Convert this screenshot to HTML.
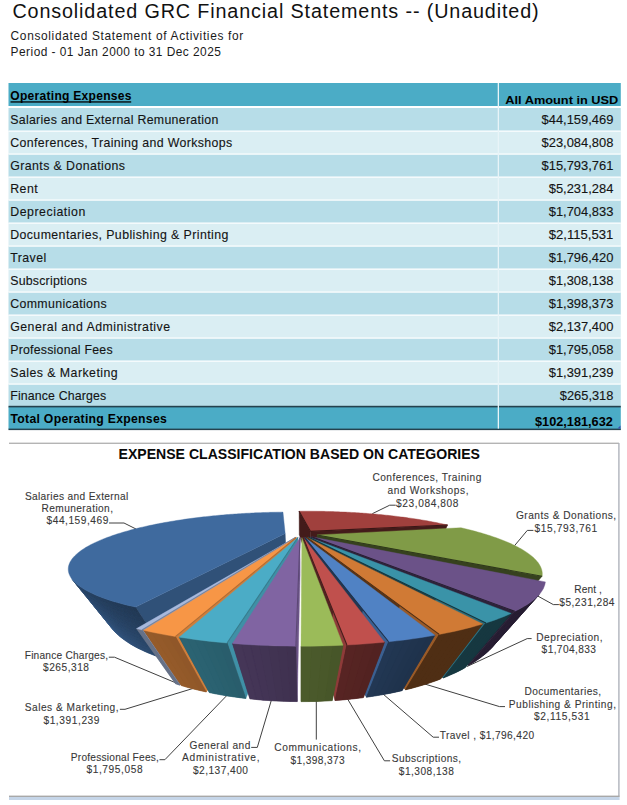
<!DOCTYPE html>
<html><head><meta charset="utf-8"><title>Consolidated GRC Financial Statements</title>
<style>
html,body{margin:0;padding:0;background:#fff;width:627px;height:805px;overflow:hidden}
svg{display:block;font-family:"Liberation Sans",sans-serif}
</style></head><body>
<svg width="627" height="805" viewBox="0 0 627 805">
<rect x="8.5" y="83" width="612.3" height="23" fill="#4bacc6"/>
<rect x="8.5" y="108" width="612.3" height="23" fill="#b7dde8"/>
<rect x="8.5" y="131" width="612.3" height="23" fill="#daeef3"/>
<rect x="8.5" y="154" width="612.3" height="23" fill="#b7dde8"/>
<rect x="8.5" y="177" width="612.3" height="23" fill="#daeef3"/>
<rect x="8.5" y="200" width="612.3" height="23" fill="#b7dde8"/>
<rect x="8.5" y="223" width="612.3" height="23" fill="#daeef3"/>
<rect x="8.5" y="246" width="612.3" height="23" fill="#b7dde8"/>
<rect x="8.5" y="269" width="612.3" height="23" fill="#daeef3"/>
<rect x="8.5" y="292" width="612.3" height="23" fill="#b7dde8"/>
<rect x="8.5" y="315" width="612.3" height="23" fill="#daeef3"/>
<rect x="8.5" y="338" width="612.3" height="23" fill="#b7dde8"/>
<rect x="8.5" y="361" width="612.3" height="23" fill="#daeef3"/>
<rect x="8.5" y="384" width="612.3" height="23" fill="#b7dde8"/>
<rect x="8.5" y="130.5" width="612.3" height="1.2" fill="#ffffff"/>
<rect x="8.5" y="153.5" width="612.3" height="1.2" fill="#ffffff"/>
<rect x="8.5" y="176.5" width="612.3" height="1.2" fill="#ffffff"/>
<rect x="8.5" y="199.5" width="612.3" height="1.2" fill="#ffffff"/>
<rect x="8.5" y="222.5" width="612.3" height="1.2" fill="#ffffff"/>
<rect x="8.5" y="245.5" width="612.3" height="1.2" fill="#ffffff"/>
<rect x="8.5" y="268.5" width="612.3" height="1.2" fill="#ffffff"/>
<rect x="8.5" y="291.5" width="612.3" height="1.2" fill="#ffffff"/>
<rect x="8.5" y="314.5" width="612.3" height="1.2" fill="#ffffff"/>
<rect x="8.5" y="337.5" width="612.3" height="1.2" fill="#ffffff"/>
<rect x="8.5" y="360.5" width="612.3" height="1.2" fill="#ffffff"/>
<rect x="8.5" y="383.5" width="612.3" height="1.2" fill="#ffffff"/>
<rect x="8.5" y="407" width="612.3" height="22.5" fill="#4bacc6"/>
<rect x="8.5" y="405.8" width="612.3" height="1.6" fill="#24424e"/>
<rect x="8.5" y="428.6" width="612.3" height="1.5" fill="#24424e"/>
<rect x="497.7" y="83" width="1.3" height="345.6" fill="#e8f4f8"/>
<path d="M617.5 428.5 L620.5 425.5 L620.5 428.5 Z" fill="#3a4fb0"/>
<text x="12.4" y="18.3" font-size="19.77" textLength="526.2" lengthAdjust="spacing" fill="#111111">Consolidated GRC Financial Statements -- (Unaudited)</text>
<text x="10.6" y="40.0" font-size="11.92" textLength="232.6" lengthAdjust="spacing" fill="#1a1a1a">Consolidated Statement of Activities for</text>
<text x="10.6" y="56.0" font-size="11.92" textLength="210.3" lengthAdjust="spacing" fill="#1a1a1a">Period - 01 Jan 2000 to 31 Dec 2025</text>
<text x="10.3" y="99.7" font-size="12.06" textLength="121.1" lengthAdjust="spacing" font-weight="bold" fill="#000">Operating Expenses</text>
<rect x="10.5" y="101.3" width="120.7" height="1.3" fill="#000"/>
<text x="505.3" y="103.9" font-size="11.63" textLength="113.0" lengthAdjust="spacingAndGlyphs" font-weight="bold" fill="#000">All Amount in USD</text>
<text x="10.2" y="123.8" font-size="12.35" textLength="208.1" lengthAdjust="spacing" fill="#141414" stroke="#141414" stroke-width="0.12">Salaries and External Remuneration</text>
<text x="541.5" y="123.9" font-size="12.21" textLength="71.9" lengthAdjust="spacingAndGlyphs" fill="#141414" stroke="#141414" stroke-width="0.12">$44,159,469</text>
<text x="10.2" y="146.8" font-size="12.35" textLength="222.0" lengthAdjust="spacing" fill="#141414" stroke="#141414" stroke-width="0.12">Conferences, Training and Workshops</text>
<text x="541.5" y="146.9" font-size="12.21" textLength="71.9" lengthAdjust="spacingAndGlyphs" fill="#141414" stroke="#141414" stroke-width="0.12">$23,084,808</text>
<text x="10.2" y="169.8" font-size="12.35" textLength="114.8" lengthAdjust="spacing" fill="#141414" stroke="#141414" stroke-width="0.12">Grants &amp; Donations</text>
<text x="541.5" y="169.9" font-size="12.21" textLength="71.9" lengthAdjust="spacingAndGlyphs" fill="#141414" stroke="#141414" stroke-width="0.12">$15,793,761</text>
<text x="10.2" y="192.8" font-size="12.35" textLength="27.6" lengthAdjust="spacing" fill="#141414" stroke="#141414" stroke-width="0.12">Rent</text>
<text x="548.7" y="192.9" font-size="12.21" textLength="64.7" lengthAdjust="spacingAndGlyphs" fill="#141414" stroke="#141414" stroke-width="0.12">$5,231,284</text>
<text x="10.2" y="215.8" font-size="12.35" textLength="75.1" lengthAdjust="spacing" fill="#141414" stroke="#141414" stroke-width="0.12">Depreciation</text>
<text x="548.7" y="215.9" font-size="12.21" textLength="64.7" lengthAdjust="spacingAndGlyphs" fill="#141414" stroke="#141414" stroke-width="0.12">$1,704,833</text>
<text x="10.2" y="238.8" font-size="12.35" textLength="218.1" lengthAdjust="spacing" fill="#141414" stroke="#141414" stroke-width="0.12">Documentaries, Publishing &amp; Printing</text>
<text x="548.7" y="238.9" font-size="12.21" textLength="64.7" lengthAdjust="spacingAndGlyphs" fill="#141414" stroke="#141414" stroke-width="0.12">$2,115,531</text>
<text x="10.2" y="261.8" font-size="12.35" textLength="36.1" lengthAdjust="spacing" fill="#141414" stroke="#141414" stroke-width="0.12">Travel</text>
<text x="548.7" y="261.9" font-size="12.21" textLength="64.7" lengthAdjust="spacingAndGlyphs" fill="#141414" stroke="#141414" stroke-width="0.12">$1,796,420</text>
<text x="10.2" y="284.8" font-size="12.35" textLength="76.8" lengthAdjust="spacing" fill="#141414" stroke="#141414" stroke-width="0.12">Subscriptions</text>
<text x="548.7" y="284.9" font-size="12.21" textLength="64.7" lengthAdjust="spacingAndGlyphs" fill="#141414" stroke="#141414" stroke-width="0.12">$1,308,138</text>
<text x="10.2" y="307.8" font-size="12.35" textLength="96.5" lengthAdjust="spacing" fill="#141414" stroke="#141414" stroke-width="0.12">Communications</text>
<text x="548.7" y="307.9" font-size="12.21" textLength="64.7" lengthAdjust="spacingAndGlyphs" fill="#141414" stroke="#141414" stroke-width="0.12">$1,398,373</text>
<text x="10.2" y="330.8" font-size="12.35" textLength="159.8" lengthAdjust="spacing" fill="#141414" stroke="#141414" stroke-width="0.12">General and Administrative</text>
<text x="548.7" y="330.9" font-size="12.21" textLength="64.7" lengthAdjust="spacingAndGlyphs" fill="#141414" stroke="#141414" stroke-width="0.12">$2,137,400</text>
<text x="10.2" y="353.8" font-size="12.35" textLength="102.4" lengthAdjust="spacing" fill="#141414" stroke="#141414" stroke-width="0.12">Professional Fees</text>
<text x="548.7" y="353.9" font-size="12.21" textLength="64.7" lengthAdjust="spacingAndGlyphs" fill="#141414" stroke="#141414" stroke-width="0.12">$1,795,058</text>
<text x="10.2" y="376.8" font-size="12.35" textLength="107.5" lengthAdjust="spacing" fill="#141414" stroke="#141414" stroke-width="0.12">Sales &amp; Marketing</text>
<text x="548.7" y="376.9" font-size="12.21" textLength="64.7" lengthAdjust="spacingAndGlyphs" fill="#141414" stroke="#141414" stroke-width="0.12">$1,391,239</text>
<text x="10.2" y="399.8" font-size="12.35" textLength="96.0" lengthAdjust="spacing" fill="#141414" stroke="#141414" stroke-width="0.12">Finance Charges</text>
<text x="559.8" y="399.9" font-size="12.21" textLength="53.6" lengthAdjust="spacingAndGlyphs" fill="#141414" stroke="#141414" stroke-width="0.12">$265,318</text>
<text x="10.5" y="423.2" font-size="12.21" textLength="156.3" lengthAdjust="spacing" font-weight="bold" fill="#000">Total Operating Expenses</text>
<text x="535.0" y="426.0" font-size="11.92" textLength="77.8" lengthAdjust="spacingAndGlyphs" font-weight="bold" fill="#000">$102,181,632</text>
<rect x="9" y="442.6" width="610" height="1.4" fill="#b4b4b4"/>
<rect x="618.2" y="443" width="1.4" height="353.5" fill="#b0b3bc"/>
<rect x="9" y="795.6" width="610.6" height="1.4" fill="#a8a8a8"/>
<rect x="9" y="797" width="610.6" height="3" fill="#c5d5e8"/>
<text x="118.5" y="459.1" font-size="14.83" textLength="361.5" lengthAdjust="spacingAndGlyphs" font-weight="bold" fill="#0a0a0a">EXPENSE CLASSIFICATION BASED ON CATEGORIES</text>
<text x="24.9" y="500.2" font-size="10.17" textLength="103.4" lengthAdjust="spacing" fill="#383838" stroke="#383838" stroke-width="0.1">Salaries and External</text>
<text x="41.5" y="512.2" font-size="10.17" textLength="71.5" lengthAdjust="spacing" fill="#383838" stroke="#383838" stroke-width="0.1">Remuneration,</text>
<text x="46.6" y="524.2" font-size="10.17" textLength="61.7" lengthAdjust="spacing" fill="#383838" stroke="#383838" stroke-width="0.1">$44,159,469</text>
<text x="372.4" y="480.9" font-size="10.17" textLength="108.9" lengthAdjust="spacing" fill="#383838" stroke="#383838" stroke-width="0.1">Conferences, Training</text>
<text x="387.6" y="494.3" font-size="10.17" textLength="81.0" lengthAdjust="spacing" fill="#383838" stroke="#383838" stroke-width="0.1">and Workshops,</text>
<text x="396.1" y="507.0" font-size="10.17" textLength="62.4" lengthAdjust="spacing" fill="#383838" stroke="#383838" stroke-width="0.1">$23,084,808</text>
<text x="515.9" y="518.9" font-size="10.17" textLength="100.3" lengthAdjust="spacing" fill="#383838" stroke="#383838" stroke-width="0.1">Grants &amp; Donations,</text>
<text x="534.5" y="532.1" font-size="10.17" textLength="62.6" lengthAdjust="spacing" fill="#383838" stroke="#383838" stroke-width="0.1">$15,793,761</text>
<text x="574.3" y="592.5" font-size="10.17" textLength="27.6" lengthAdjust="spacing" fill="#383838" stroke="#383838" stroke-width="0.1">Rent ,</text>
<text x="559.3" y="605.6" font-size="10.17" textLength="55.2" lengthAdjust="spacing" fill="#383838" stroke="#383838" stroke-width="0.1">$5,231,284</text>
<text x="536.2" y="640.6" font-size="10.17" textLength="66.4" lengthAdjust="spacing" fill="#383838" stroke="#383838" stroke-width="0.1">Depreciation,</text>
<text x="541.6" y="652.7" font-size="10.17" textLength="54.3" lengthAdjust="spacing" fill="#383838" stroke="#383838" stroke-width="0.1">$1,704,833</text>
<text x="524.4" y="695.2" font-size="10.17" textLength="76.7" lengthAdjust="spacing" fill="#383838" stroke="#383838" stroke-width="0.1">Documentaries,</text>
<text x="508.8" y="707.9" font-size="10.17" textLength="107.2" lengthAdjust="spacing" fill="#383838" stroke="#383838" stroke-width="0.1">Publishing &amp; Printing,</text>
<text x="534.1" y="719.7" font-size="10.17" textLength="55.6" lengthAdjust="spacing" fill="#383838" stroke="#383838" stroke-width="0.1">$2,115,531</text>
<text x="439.7" y="739.1" font-size="10.17" textLength="94.4" lengthAdjust="spacing" fill="#383838" stroke="#383838" stroke-width="0.1">Travel , $1,796,420</text>
<text x="391.7" y="762.0" font-size="10.17" textLength="69.5" lengthAdjust="spacing" fill="#383838" stroke="#383838" stroke-width="0.1">Subscriptions,</text>
<text x="398.8" y="774.8" font-size="10.17" textLength="55.1" lengthAdjust="spacing" fill="#383838" stroke="#383838" stroke-width="0.1">$1,308,138</text>
<text x="274.3" y="751.3" font-size="10.17" textLength="86.7" lengthAdjust="spacing" fill="#383838" stroke="#383838" stroke-width="0.1">Communications,</text>
<text x="290.5" y="763.8" font-size="10.17" textLength="54.2" lengthAdjust="spacing" fill="#383838" stroke="#383838" stroke-width="0.1">$1,398,373</text>
<text x="189.6" y="749.0" font-size="10.17" textLength="60.7" lengthAdjust="spacing" fill="#383838" stroke="#383838" stroke-width="0.1">General and</text>
<text x="182.0" y="761.4" font-size="10.17" textLength="77.5" lengthAdjust="spacing" fill="#383838" stroke="#383838" stroke-width="0.1">Administrative,</text>
<text x="192.9" y="773.9" font-size="10.17" textLength="55.1" lengthAdjust="spacing" fill="#383838" stroke="#383838" stroke-width="0.1">$2,137,400</text>
<text x="70.8" y="760.9" font-size="10.17" textLength="88.1" lengthAdjust="spacing" fill="#383838" stroke="#383838" stroke-width="0.1">Professional Fees,</text>
<text x="86.5" y="773.3" font-size="10.17" textLength="56.1" lengthAdjust="spacing" fill="#383838" stroke="#383838" stroke-width="0.1">$1,795,058</text>
<text x="24.7" y="711.1" font-size="10.17" textLength="93.9" lengthAdjust="spacing" fill="#383838" stroke="#383838" stroke-width="0.1">Sales &amp; Marketing,</text>
<text x="43.4" y="723.6" font-size="10.17" textLength="56.1" lengthAdjust="spacing" fill="#383838" stroke="#383838" stroke-width="0.1">$1,391,239</text>
<text x="24.7" y="658.9" font-size="10.17" textLength="83.4" lengthAdjust="spacing" fill="#383838" stroke="#383838" stroke-width="0.1">Finance Charges,</text>
<text x="43.0" y="670.9" font-size="10.17" textLength="46.0" lengthAdjust="spacing" fill="#383838" stroke="#383838" stroke-width="0.1">$265,318</text>
<polyline points="109.0,523.0 124.0,523.0 136.0,529.0" fill="none" stroke="#404040" stroke-width="1"/>
<polyline points="395.7,505.2 389.7,505.2 372.3,513.7" fill="none" stroke="#404040" stroke-width="1"/>
<polyline points="533.4,530.4 527.3,530.4 514.6,545.6" fill="none" stroke="#404040" stroke-width="1"/>
<polyline points="558.9,604.6 553.3,604.6 537.0,595.6" fill="none" stroke="#404040" stroke-width="1"/>
<polyline points="531.6,638.6 527.2,638.6 467.0,666.5" fill="none" stroke="#404040" stroke-width="1"/>
<polyline points="505.0,706.6 499.5,706.6 423.4,683.6" fill="none" stroke="#404040" stroke-width="1"/>
<polyline points="439.0,737.2 433.2,737.2 383.0,694.0" fill="none" stroke="#404040" stroke-width="1"/>
<polyline points="390.1,760.8 384.4,760.8 347.0,698.0" fill="none" stroke="#404040" stroke-width="1"/>
<polyline points="316.3,739.6 316.3,700.0" fill="none" stroke="#404040" stroke-width="1"/>
<polyline points="251.2,747.4 257.3,747.4 272.0,698.0" fill="none" stroke="#404040" stroke-width="1"/>
<polyline points="159.5,759.7 164.9,759.7 227.6,694.7" fill="none" stroke="#404040" stroke-width="1"/>
<polyline points="119.9,709.3 125.0,709.3 193.2,688.4" fill="none" stroke="#404040" stroke-width="1"/>
<polyline points="108.8,657.2 114.5,657.2 176.9,683.3" fill="none" stroke="#404040" stroke-width="1"/>
<g>
<polygon points="310.51,531.40 299.12,511.23 299.25,534.70 309.55,564.88" fill="#431b1a" stroke="#431b1a" stroke-width="0.4" stroke-linejoin="round"/>
<polygon points="310.51,531.40 447.57,525.01 434.26,555.55 309.55,564.88" fill="#431b1a" stroke="#431b1a" stroke-width="0.4" stroke-linejoin="round"/>
<polygon points="310.51,531.40 299.12,511.23 300.90,511.22 302.68,511.20 304.47,511.20 306.25,511.19 308.04,511.19 309.83,511.20 311.61,511.20 313.40,511.22 315.19,511.23 316.98,511.25 318.77,511.28 320.57,511.30 322.36,511.34 324.15,511.37 325.95,511.41 327.74,511.46 329.54,511.50 331.34,511.56 333.14,511.61 334.94,511.67 336.75,511.74 338.55,511.81 340.36,511.88 342.17,511.95 343.98,512.04 345.79,512.12 347.60,512.21 349.41,512.30 351.23,512.40 353.05,512.51 354.87,512.61 356.69,512.72 358.52,512.84 360.34,512.96 362.17,513.09 364.00,513.22 365.83,513.35 367.66,513.49 369.50,513.63 371.34,513.78 373.17,513.94 375.02,514.10 376.86,514.26 378.70,514.43 380.55,514.60 382.40,514.78 384.25,514.97 386.10,515.16 387.96,515.35 389.81,515.55 391.67,515.76 393.53,515.97 395.39,516.19 397.25,516.41 399.12,516.64 400.98,516.88 402.85,517.12 404.72,517.37 406.59,517.62 408.46,517.88 410.33,518.15 412.20,518.42 414.07,518.70 415.94,518.99 417.81,519.28 419.68,519.58 421.55,519.89 423.42,520.20 425.29,520.52 427.16,520.85 429.03,521.19 430.90,521.54 432.76,521.89 434.62,522.25 436.48,522.62 438.34,523.00 440.19,523.38 442.04,523.77 443.89,524.18 445.73,524.59 447.57,525.01" fill="#a0403d" stroke="#a0403d" stroke-width="0.4" stroke-linejoin="round"/>
<polyline points="310.51,531.40 299.12,511.23" fill="none" stroke="#3a1716" stroke-width="1.1"/>
<polyline points="310.51,531.40 447.57,525.01" fill="none" stroke="#3a1716" stroke-width="1.1"/>
<polygon points="317.08,534.92 542.10,576.25 501.24,624.60 315.36,569.91" fill="#36411e" stroke="#36411e" stroke-width="0.4" stroke-linejoin="round"/>
<polygon points="317.08,534.92 460.97,527.74 463.05,528.23 465.12,528.72 467.19,529.22 469.25,529.74 471.32,530.27 473.38,530.81 475.43,531.36 477.48,531.92 479.53,532.50 481.56,533.09 483.59,533.69 485.62,534.30 487.63,534.93 489.63,535.57 491.63,536.23 493.61,536.90 495.57,537.58 497.53,538.28 499.46,539.00 501.39,539.73 503.29,540.47 505.17,541.23 507.04,542.01 508.88,542.80 510.69,543.61 512.49,544.43 514.25,545.28 515.98,546.14 517.69,547.01 519.36,547.91 520.99,548.82 522.59,549.75 524.14,550.70 525.66,551.66 527.13,552.65 528.55,553.65 529.92,554.67 531.24,555.71 532.50,556.77 533.70,557.85 534.84,558.95 535.91,560.07 536.91,561.20 537.84,562.36 538.70,563.53 539.47,564.72 540.16,565.93 540.75,567.16 541.26,568.41 541.67,569.67 541.98,570.95 542.18,572.25 542.27,573.57 542.25,574.90 542.10,576.25" fill="#809b47" stroke="#809b47" stroke-width="0.4" stroke-linejoin="round"/>
<polyline points="317.08,534.92 542.10,576.25" fill="none" stroke="#2e381a" stroke-width="1.1"/>
<polygon points="311.69,536.82 514.80,611.29 468.64,665.31 310.52,572.61" fill="#2d2239" stroke="#2d2239" stroke-width="0.4" stroke-linejoin="round"/>
<polygon points="539.17,594.63 537.64,596.29 535.92,597.95 534.01,599.62 531.90,601.29 529.59,602.96 527.07,604.64 524.33,606.31 521.38,607.98 518.20,609.64 514.80,611.29 468.64,665.31 471.76,663.50 474.72,661.66 477.52,659.81 480.16,657.94 482.65,656.06 484.98,654.17 487.17,652.27 489.20,650.36 491.09,648.45 492.84,646.54" fill="#291f34" stroke="#291f34" stroke-width="0.4" stroke-linejoin="round"/>
<polygon points="539.17,594.63 537.64,596.29 491.09,648.45 492.84,646.54" fill="#291f34" stroke="#291f34" stroke-width="0.35"/>
<polygon points="537.64,596.29 535.92,597.95 489.20,650.36 491.09,648.45" fill="#291f34" stroke="#291f34" stroke-width="0.35"/>
<polygon points="535.92,597.95 534.01,599.62 487.17,652.27 489.20,650.36" fill="#291f34" stroke="#291f34" stroke-width="0.35"/>
<polygon points="534.01,599.62 531.90,601.29 484.98,654.17 487.17,652.27" fill="#291f34" stroke="#291f34" stroke-width="0.35"/>
<polygon points="531.90,601.29 529.59,602.96 482.65,656.06 484.98,654.17" fill="#291f34" stroke="#291f34" stroke-width="0.35"/>
<polygon points="529.59,602.96 527.07,604.64 480.16,657.94 482.65,656.06" fill="#291f34" stroke="#291f34" stroke-width="0.35"/>
<polygon points="527.07,604.64 524.33,606.31 477.52,659.81 480.16,657.94" fill="#291f34" stroke="#291f34" stroke-width="0.35"/>
<polygon points="524.33,606.31 521.38,607.98 474.72,661.66 477.52,659.81" fill="#291f34" stroke="#291f34" stroke-width="0.35"/>
<polygon points="521.38,607.98 518.20,609.64 471.76,663.50 474.72,661.66" fill="#291f34" stroke="#291f34" stroke-width="0.35"/>
<polygon points="518.20,609.64 514.80,611.29 468.64,665.31 471.76,663.50" fill="#291f34" stroke="#291f34" stroke-width="0.35"/>
<polygon points="311.69,536.82 545.36,581.88 545.12,583.41 544.74,584.97 544.21,586.54 543.53,588.13 542.69,589.74 541.69,591.36 540.51,592.99 539.17,594.63 537.64,596.29 535.92,597.95 534.01,599.62 531.90,601.29 529.59,602.96 527.07,604.64 524.33,606.31 521.38,607.98 518.20,609.64 514.80,611.29" fill="#6b5288" stroke="#6b5288" stroke-width="0.4" stroke-linejoin="round"/>
<polyline points="311.69,536.82 514.80,611.29" fill="none" stroke="#271e31" stroke-width="1.1"/>
<polygon points="308.69,537.25 485.90,623.01 443.32,677.93 307.84,573.21" fill="#183e47" stroke="#183e47" stroke-width="0.4" stroke-linejoin="round"/>
<polygon points="436.13,598.92 485.90,623.01 443.32,677.93 409.09,651.47" fill="#2b6d7c" stroke="#2b6d7c" stroke-width="0.4" stroke-linejoin="round"/>
<polygon points="511.22,613.39 507.57,615.04 503.70,616.67 499.60,618.29 495.26,619.89 490.70,621.46 485.90,623.01 443.32,677.93 447.37,676.30 451.26,674.62 455.00,672.91 458.58,671.17 462.01,669.40 465.28,667.61" fill="#163840" stroke="#163840" stroke-width="0.4" stroke-linejoin="round"/>
<polygon points="511.22,613.39 507.57,615.04 462.01,669.40 465.28,667.61" fill="#163840" stroke="#163840" stroke-width="0.35"/>
<polygon points="507.57,615.04 503.70,616.67 458.58,671.17 462.01,669.40" fill="#163840" stroke="#163840" stroke-width="0.35"/>
<polygon points="503.70,616.67 499.60,618.29 455.00,672.91 458.58,671.17" fill="#163840" stroke="#163840" stroke-width="0.35"/>
<polygon points="499.60,618.29 495.26,619.89 451.26,674.62 455.00,672.91" fill="#163840" stroke="#163840" stroke-width="0.35"/>
<polygon points="495.26,619.89 490.70,621.46 447.37,676.30 451.26,674.62" fill="#163840" stroke="#163840" stroke-width="0.35"/>
<polygon points="490.70,621.46 485.90,623.01 443.32,677.93 447.37,676.30" fill="#163840" stroke="#163840" stroke-width="0.35"/>
<polygon points="308.69,537.25 511.22,613.39 507.57,615.04 503.70,616.67 499.60,618.29 495.26,619.89 490.70,621.46 485.90,623.01" fill="#3a93a8" stroke="#3a93a8" stroke-width="0.4" stroke-linejoin="round"/>
<polyline points="308.69,537.25 485.90,623.01" fill="none" stroke="#15353c" stroke-width="1.1"/>
<polygon points="285.17,533.60 135.54,607.10 170.41,660.68 286.84,568.04" fill="#305178" stroke="#305178" stroke-width="0.4" stroke-linejoin="round"/>
<polygon points="135.54,607.10 130.73,606.02 126.11,604.91 121.67,603.76 117.42,602.60 113.37,601.41 109.50,600.19 105.83,598.96 102.34,597.70 99.05,596.44 95.94,595.16 93.01,593.87 90.27,592.56 87.71,591.26 85.33,589.94 83.12,588.62 81.08,587.30 79.21,585.98 77.50,584.66 75.95,583.35 74.56,582.03 73.32,580.72 72.23,579.42 112.03,628.48 113.34,630.07 114.77,631.65 116.33,633.23 118.00,634.81 119.80,636.39 121.72,637.96 123.77,639.52 125.95,641.07 128.26,642.61 130.70,644.14 133.27,645.65 135.98,647.15 138.82,648.63 141.80,650.08 144.91,651.51 148.16,652.92 151.54,654.30 155.05,655.65 158.70,656.96 162.47,658.24 166.38,659.48 170.41,660.68" fill="#33557f" stroke="#33557f" stroke-width="0.4" stroke-linejoin="round"/>
<polygon points="135.54,607.10 130.73,606.02 134.41,611.53 139.14,612.63" fill="#213853" stroke="#213853" stroke-width="0.35"/>
<polygon points="139.14,612.63 134.41,611.53 137.93,616.81 142.59,617.93" fill="#223955" stroke="#223955" stroke-width="0.35"/>
<polygon points="142.59,617.93 137.93,616.81 141.30,621.87 145.89,623.01" fill="#233b57" stroke="#233b57" stroke-width="0.35"/>
<polygon points="145.89,623.01 141.30,621.87 144.54,626.73 149.06,627.88" fill="#243c59" stroke="#243c59" stroke-width="0.35"/>
<polygon points="149.06,627.88 144.54,626.73 147.65,631.39 152.10,632.55" fill="#243d5b" stroke="#243d5b" stroke-width="0.35"/>
<polygon points="152.10,632.55 147.65,631.39 150.64,635.87 155.03,637.05" fill="#253e5d" stroke="#253e5d" stroke-width="0.35"/>
<polygon points="155.03,637.05 150.64,635.87 153.51,640.18 157.84,641.36" fill="#26405f" stroke="#26405f" stroke-width="0.35"/>
<polygon points="157.84,641.36 153.51,640.18 156.28,644.33 160.54,645.52" fill="#274161" stroke="#274161" stroke-width="0.35"/>
<polygon points="160.54,645.52 156.28,644.33 158.94,648.33 163.14,649.52" fill="#274263" stroke="#274263" stroke-width="0.35"/>
<polygon points="163.14,649.52 158.94,648.33 161.51,652.18 165.65,653.38" fill="#284465" stroke="#284465" stroke-width="0.35"/>
<polygon points="165.65,653.38 161.51,652.18 163.99,655.90 168.07,657.10" fill="#294567" stroke="#294567" stroke-width="0.35"/>
<polygon points="168.07,657.10 163.99,655.90 166.38,659.48 170.41,660.68" fill="#2a4668" stroke="#2a4668" stroke-width="0.35"/>
<polygon points="130.73,606.02 126.11,604.91 129.85,610.40 134.41,611.53" fill="#223954" stroke="#223954" stroke-width="0.35"/>
<polygon points="134.41,611.53 129.85,610.40 133.44,615.66 137.93,616.81" fill="#223a56" stroke="#223a56" stroke-width="0.35"/>
<polygon points="137.93,616.81 133.44,615.66 136.88,620.70 141.30,621.87" fill="#233b58" stroke="#233b58" stroke-width="0.35"/>
<polygon points="141.30,621.87 136.88,620.70 140.18,625.54 144.54,626.73" fill="#243c5a" stroke="#243c5a" stroke-width="0.35"/>
<polygon points="144.54,626.73 140.18,625.54 143.35,630.19 147.65,631.39" fill="#253e5c" stroke="#253e5c" stroke-width="0.35"/>
<polygon points="147.65,631.39 143.35,630.19 146.40,634.67 150.64,635.87" fill="#253f5e" stroke="#253f5e" stroke-width="0.35"/>
<polygon points="150.64,635.87 146.40,634.67 149.33,638.97 153.51,640.18" fill="#264060" stroke="#264060" stroke-width="0.35"/>
<polygon points="153.51,640.18 149.33,638.97 152.15,643.11 156.28,644.33" fill="#274262" stroke="#274262" stroke-width="0.35"/>
<polygon points="156.28,644.33 152.15,643.11 154.88,647.10 158.94,648.33" fill="#284364" stroke="#284364" stroke-width="0.35"/>
<polygon points="158.94,648.33 154.88,647.10 157.50,650.95 161.51,652.18" fill="#294466" stroke="#294466" stroke-width="0.35"/>
<polygon points="161.51,652.18 157.50,650.95 160.03,654.66 163.99,655.90" fill="#294668" stroke="#294668" stroke-width="0.35"/>
<polygon points="163.99,655.90 160.03,654.66 162.47,658.24 166.38,659.48" fill="#2a476a" stroke="#2a476a" stroke-width="0.35"/>
<polygon points="126.11,604.91 121.67,603.76 125.48,609.23 129.85,610.40" fill="#223955" stroke="#223955" stroke-width="0.35"/>
<polygon points="129.85,610.40 125.48,609.23 129.12,614.47 133.44,615.66" fill="#233a57" stroke="#233a57" stroke-width="0.35"/>
<polygon points="133.44,615.66 129.12,614.47 132.62,619.50 136.88,620.70" fill="#243c59" stroke="#243c59" stroke-width="0.35"/>
<polygon points="136.88,620.70 132.62,619.50 135.98,624.33 140.18,625.54" fill="#243d5b" stroke="#243d5b" stroke-width="0.35"/>
<polygon points="140.18,625.54 135.98,624.33 139.21,628.96 143.35,630.19" fill="#253e5d" stroke="#253e5d" stroke-width="0.35"/>
<polygon points="143.35,630.19 139.21,628.96 142.31,633.42 146.40,634.67" fill="#26405f" stroke="#26405f" stroke-width="0.35"/>
<polygon points="146.40,634.67 142.31,633.42 145.30,637.72 149.33,638.97" fill="#274161" stroke="#274161" stroke-width="0.35"/>
<polygon points="149.33,638.97 145.30,637.72 148.18,641.85 152.15,643.11" fill="#274263" stroke="#274263" stroke-width="0.35"/>
<polygon points="152.15,643.11 148.18,641.85 150.95,645.83 154.88,647.10" fill="#284465" stroke="#284465" stroke-width="0.35"/>
<polygon points="154.88,647.10 150.95,645.83 153.62,649.67 157.50,650.95" fill="#294567" stroke="#294567" stroke-width="0.35"/>
<polygon points="157.50,650.95 153.62,649.67 156.20,653.38 160.03,654.66" fill="#2a4669" stroke="#2a4669" stroke-width="0.35"/>
<polygon points="160.03,654.66 156.20,653.38 158.70,656.96 162.47,658.24" fill="#2b486b" stroke="#2b486b" stroke-width="0.35"/>
<polygon points="121.67,603.76 117.42,602.60 121.28,608.04 125.48,609.23" fill="#223a56" stroke="#223a56" stroke-width="0.35"/>
<polygon points="125.48,609.23 121.28,608.04 124.99,613.26 129.12,614.47" fill="#233b58" stroke="#233b58" stroke-width="0.35"/>
<polygon points="129.12,614.47 124.99,613.26 128.54,618.27 132.62,619.50" fill="#243c5a" stroke="#243c5a" stroke-width="0.35"/>
<polygon points="132.62,619.50 128.54,618.27 131.95,623.08 135.98,624.33" fill="#253e5c" stroke="#253e5c" stroke-width="0.35"/>
<polygon points="135.98,624.33 131.95,623.08 135.23,627.70 139.21,628.96" fill="#253f5e" stroke="#253f5e" stroke-width="0.35"/>
<polygon points="139.21,628.96 135.23,627.70 138.39,632.15 142.31,633.42" fill="#264060" stroke="#264060" stroke-width="0.35"/>
<polygon points="142.31,633.42 138.39,632.15 141.42,636.43 145.30,637.72" fill="#274262" stroke="#274262" stroke-width="0.35"/>
<polygon points="145.30,637.72 141.42,636.43 144.35,640.56 148.18,641.85" fill="#284364" stroke="#284364" stroke-width="0.35"/>
<polygon points="148.18,641.85 144.35,640.56 147.17,644.53 150.95,645.83" fill="#294466" stroke="#294466" stroke-width="0.35"/>
<polygon points="150.95,645.83 147.17,644.53 149.89,648.37 153.62,649.67" fill="#294668" stroke="#294668" stroke-width="0.35"/>
<polygon points="153.62,649.67 149.89,648.37 152.52,652.07 156.20,653.38" fill="#2a476a" stroke="#2a476a" stroke-width="0.35"/>
<polygon points="156.20,653.38 152.52,652.07 155.05,655.65 158.70,656.96" fill="#2b486c" stroke="#2b486c" stroke-width="0.35"/>
<polygon points="117.42,602.60 113.37,601.41 117.28,606.82 121.28,608.04" fill="#233a57" stroke="#233a57" stroke-width="0.35"/>
<polygon points="121.28,608.04 117.28,606.82 121.03,612.02 124.99,613.26" fill="#243c59" stroke="#243c59" stroke-width="0.35"/>
<polygon points="124.99,613.26 121.03,612.02 124.63,617.01 128.54,618.27" fill="#243d5b" stroke="#243d5b" stroke-width="0.35"/>
<polygon points="128.54,618.27 124.63,617.01 128.09,621.80 131.95,623.08" fill="#253e5d" stroke="#253e5d" stroke-width="0.35"/>
<polygon points="131.95,623.08 128.09,621.80 131.41,626.41 135.23,627.70" fill="#26405f" stroke="#26405f" stroke-width="0.35"/>
<polygon points="135.23,627.70 131.41,626.41 134.61,630.85 138.39,632.15" fill="#274161" stroke="#274161" stroke-width="0.35"/>
<polygon points="138.39,632.15 134.61,630.85 137.70,635.12 141.42,636.43" fill="#274263" stroke="#274263" stroke-width="0.35"/>
<polygon points="141.42,636.43 137.70,635.12 140.67,639.23 144.35,640.56" fill="#284465" stroke="#284465" stroke-width="0.35"/>
<polygon points="144.35,640.56 140.67,639.23 143.53,643.20 147.17,644.53" fill="#294567" stroke="#294567" stroke-width="0.35"/>
<polygon points="147.17,644.53 143.53,643.20 146.29,647.03 149.89,648.37" fill="#2a4669" stroke="#2a4669" stroke-width="0.35"/>
<polygon points="149.89,648.37 146.29,647.03 148.96,650.73 152.52,652.07" fill="#2b486b" stroke="#2b486b" stroke-width="0.35"/>
<polygon points="152.52,652.07 148.96,650.73 151.54,654.30 155.05,655.65" fill="#2b496d" stroke="#2b496d" stroke-width="0.35"/>
<polygon points="113.37,601.41 109.50,600.19 113.46,605.58 117.28,606.82" fill="#233b58" stroke="#233b58" stroke-width="0.35"/>
<polygon points="117.28,606.82 113.46,605.58 117.25,610.76 121.03,612.02" fill="#243c5a" stroke="#243c5a" stroke-width="0.35"/>
<polygon points="121.03,612.02 117.25,610.76 120.89,615.72 124.63,617.01" fill="#253e5c" stroke="#253e5c" stroke-width="0.35"/>
<polygon points="124.63,617.01 120.89,615.72 124.39,620.50 128.09,621.80" fill="#263f5e" stroke="#263f5e" stroke-width="0.35"/>
<polygon points="128.09,621.80 124.39,620.50 127.76,625.09 131.41,626.41" fill="#264060" stroke="#264060" stroke-width="0.35"/>
<polygon points="131.41,626.41 127.76,625.09 131.00,629.51 134.61,630.85" fill="#274262" stroke="#274262" stroke-width="0.35"/>
<polygon points="134.61,630.85 131.00,629.51 134.12,633.77 137.70,635.12" fill="#284364" stroke="#284364" stroke-width="0.35"/>
<polygon points="137.70,635.12 134.12,633.77 137.13,637.88 140.67,639.23" fill="#294566" stroke="#294566" stroke-width="0.35"/>
<polygon points="140.67,639.23 137.13,637.88 140.03,641.84 143.53,643.20" fill="#2a4668" stroke="#2a4668" stroke-width="0.35"/>
<polygon points="143.53,643.20 140.03,641.84 142.84,645.66 146.29,647.03" fill="#2a476a" stroke="#2a476a" stroke-width="0.35"/>
<polygon points="146.29,647.03 142.84,645.66 145.54,649.35 148.96,650.73" fill="#2b496c" stroke="#2b496c" stroke-width="0.35"/>
<polygon points="148.96,650.73 145.54,649.35 148.16,652.92 151.54,654.30" fill="#2c4a6e" stroke="#2c4a6e" stroke-width="0.35"/>
<polygon points="109.50,600.19 105.83,598.96 109.82,604.32 113.46,605.58" fill="#233c59" stroke="#233c59" stroke-width="0.35"/>
<polygon points="113.46,605.58 109.82,604.32 113.65,609.47 117.25,610.76" fill="#243d5b" stroke="#243d5b" stroke-width="0.35"/>
<polygon points="117.25,610.76 113.65,609.47 117.33,614.42 120.89,615.72" fill="#253e5d" stroke="#253e5d" stroke-width="0.35"/>
<polygon points="120.89,615.72 117.33,614.42 120.86,619.17 124.39,620.50" fill="#26405f" stroke="#26405f" stroke-width="0.35"/>
<polygon points="124.39,620.50 120.86,619.17 124.27,623.75 127.76,625.09" fill="#274161" stroke="#274161" stroke-width="0.35"/>
<polygon points="127.76,625.09 124.27,623.75 127.54,628.16 131.00,629.51" fill="#284363" stroke="#284363" stroke-width="0.35"/>
<polygon points="131.00,629.51 127.54,628.16 130.70,632.41 134.12,633.77" fill="#284465" stroke="#284465" stroke-width="0.35"/>
<polygon points="134.12,633.77 130.70,632.41 133.75,636.50 137.13,637.88" fill="#294567" stroke="#294567" stroke-width="0.35"/>
<polygon points="137.13,637.88 133.75,636.50 136.69,640.45 140.03,641.84" fill="#2a4769" stroke="#2a4769" stroke-width="0.35"/>
<polygon points="140.03,641.84 136.69,640.45 139.52,644.27 142.84,645.66" fill="#2b486b" stroke="#2b486b" stroke-width="0.35"/>
<polygon points="142.84,645.66 139.52,644.27 142.26,647.95 145.54,649.35" fill="#2c496d" stroke="#2c496d" stroke-width="0.35"/>
<polygon points="145.54,649.35 142.26,647.95 144.91,651.51 148.16,652.92" fill="#2c4b70" stroke="#2c4b70" stroke-width="0.35"/>
<polygon points="105.83,598.96 102.34,597.70 106.36,603.04 109.82,604.32" fill="#243c5a" stroke="#243c5a" stroke-width="0.35"/>
<polygon points="109.82,604.32 106.36,603.04 110.22,608.17 113.65,609.47" fill="#253e5c" stroke="#253e5c" stroke-width="0.35"/>
<polygon points="113.65,609.47 110.22,608.17 113.93,613.09 117.33,614.42" fill="#263f5e" stroke="#263f5e" stroke-width="0.35"/>
<polygon points="117.33,614.42 113.93,613.09 117.50,617.83 120.86,619.17" fill="#264160" stroke="#264160" stroke-width="0.35"/>
<polygon points="120.86,619.17 117.50,617.83 120.94,622.39 124.27,623.75" fill="#274262" stroke="#274262" stroke-width="0.35"/>
<polygon points="124.27,623.75 120.94,622.39 124.25,626.78 127.54,628.16" fill="#284364" stroke="#284364" stroke-width="0.35"/>
<polygon points="127.54,628.16 124.25,626.78 127.44,631.01 130.70,632.41" fill="#294566" stroke="#294566" stroke-width="0.35"/>
<polygon points="130.70,632.41 127.44,631.01 130.51,635.10 133.75,636.50" fill="#2a4669" stroke="#2a4669" stroke-width="0.35"/>
<polygon points="133.75,636.50 130.51,635.10 133.48,639.04 136.69,640.45" fill="#2b486b" stroke="#2b486b" stroke-width="0.35"/>
<polygon points="136.69,640.45 133.48,639.04 136.35,642.85 139.52,644.27" fill="#2b496d" stroke="#2b496d" stroke-width="0.35"/>
<polygon points="139.52,644.27 136.35,642.85 139.12,646.53 142.26,647.95" fill="#2c4a6f" stroke="#2c4a6f" stroke-width="0.35"/>
<polygon points="142.26,647.95 139.12,646.53 141.80,650.08 144.91,651.51" fill="#2d4c71" stroke="#2d4c71" stroke-width="0.35"/>
<polygon points="102.34,597.70 99.05,596.44 103.09,601.74 106.36,603.04" fill="#243d5b" stroke="#243d5b" stroke-width="0.35"/>
<polygon points="106.36,603.04 103.09,601.74 106.98,606.84 110.22,608.17" fill="#253f5d" stroke="#253f5d" stroke-width="0.35"/>
<polygon points="110.22,608.17 106.98,606.84 110.71,611.75 113.93,613.09" fill="#26405f" stroke="#26405f" stroke-width="0.35"/>
<polygon points="113.93,613.09 110.71,611.75 114.31,616.46 117.50,617.83" fill="#274161" stroke="#274161" stroke-width="0.35"/>
<polygon points="117.50,617.83 114.31,616.46 117.77,621.01 120.94,622.39" fill="#284363" stroke="#284363" stroke-width="0.35"/>
<polygon points="120.94,622.39 117.77,621.01 121.11,625.38 124.25,626.78" fill="#284466" stroke="#284466" stroke-width="0.35"/>
<polygon points="124.25,626.78 121.11,625.38 124.32,629.60 127.44,631.01" fill="#294668" stroke="#294668" stroke-width="0.35"/>
<polygon points="127.44,631.01 124.32,629.60 127.43,633.68 130.51,635.10" fill="#2a476a" stroke="#2a476a" stroke-width="0.35"/>
<polygon points="130.51,635.10 127.43,633.68 130.42,637.61 133.48,639.04" fill="#2b486c" stroke="#2b486c" stroke-width="0.35"/>
<polygon points="133.48,639.04 130.42,637.61 133.32,641.41 136.35,642.85" fill="#2c4a6e" stroke="#2c4a6e" stroke-width="0.35"/>
<polygon points="136.35,642.85 133.32,641.41 136.12,645.08 139.12,646.53" fill="#2d4b70" stroke="#2d4b70" stroke-width="0.35"/>
<polygon points="139.12,646.53 136.12,645.08 138.82,648.63 141.80,650.08" fill="#2e4d72" stroke="#2e4d72" stroke-width="0.35"/>
<polygon points="99.05,596.44 95.94,595.16 100.00,600.43 103.09,601.74" fill="#253e5c" stroke="#253e5c" stroke-width="0.35"/>
<polygon points="103.09,601.74 100.00,600.43 103.91,605.51 106.98,606.84" fill="#263f5e" stroke="#263f5e" stroke-width="0.35"/>
<polygon points="106.98,606.84 103.91,605.51 107.67,610.39 110.71,611.75" fill="#264160" stroke="#264160" stroke-width="0.35"/>
<polygon points="110.71,611.75 107.67,610.39 111.28,615.08 114.31,616.46" fill="#274263" stroke="#274263" stroke-width="0.35"/>
<polygon points="114.31,616.46 111.28,615.08 114.77,619.61 117.77,621.01" fill="#284465" stroke="#284465" stroke-width="0.35"/>
<polygon points="117.77,621.01 114.77,619.61 118.13,623.97 121.11,625.38" fill="#294567" stroke="#294567" stroke-width="0.35"/>
<polygon points="121.11,625.38 118.13,623.97 121.36,628.17 124.32,629.60" fill="#2a4669" stroke="#2a4669" stroke-width="0.35"/>
<polygon points="124.32,629.60 121.36,628.17 124.49,632.23 127.43,633.68" fill="#2b486b" stroke="#2b486b" stroke-width="0.35"/>
<polygon points="127.43,633.68 124.49,632.23 127.51,636.15 130.42,637.61" fill="#2c496d" stroke="#2c496d" stroke-width="0.35"/>
<polygon points="130.42,637.61 127.51,636.15 130.43,639.94 133.32,641.41" fill="#2c4b6f" stroke="#2c4b6f" stroke-width="0.35"/>
<polygon points="133.32,641.41 130.43,639.94 133.25,643.61 136.12,645.08" fill="#2d4c71" stroke="#2d4c71" stroke-width="0.35"/>
<polygon points="136.12,645.08 133.25,643.61 135.98,647.15 138.82,648.63" fill="#2e4d73" stroke="#2e4d73" stroke-width="0.35"/>
<polygon points="95.94,595.16 93.01,593.87 97.09,599.11 100.00,600.43" fill="#253f5d" stroke="#253f5d" stroke-width="0.35"/>
<polygon points="100.00,600.43 97.09,599.11 101.01,604.16 103.91,605.51" fill="#26405f" stroke="#26405f" stroke-width="0.35"/>
<polygon points="103.91,605.51 101.01,604.16 104.79,609.01 107.67,610.39" fill="#274162" stroke="#274162" stroke-width="0.35"/>
<polygon points="107.67,610.39 104.79,609.01 108.42,613.69 111.28,615.08" fill="#284364" stroke="#284364" stroke-width="0.35"/>
<polygon points="111.28,615.08 108.42,613.69 111.92,618.19 114.77,619.61" fill="#294466" stroke="#294466" stroke-width="0.35"/>
<polygon points="114.77,619.61 111.92,618.19 115.30,622.53 118.13,623.97" fill="#294668" stroke="#294668" stroke-width="0.35"/>
<polygon points="118.13,623.97 115.30,622.53 118.56,626.73 121.36,628.17" fill="#2a476a" stroke="#2a476a" stroke-width="0.35"/>
<polygon points="121.36,628.17 118.56,626.73 121.70,630.77 124.49,632.23" fill="#2b496c" stroke="#2b496c" stroke-width="0.35"/>
<polygon points="124.49,632.23 121.70,630.77 124.74,634.68 127.51,636.15" fill="#2c4a6e" stroke="#2c4a6e" stroke-width="0.35"/>
<polygon points="127.51,636.15 124.74,634.68 127.68,638.46 130.43,639.94" fill="#2d4c71" stroke="#2d4c71" stroke-width="0.35"/>
<polygon points="130.43,639.94 127.68,638.46 130.52,642.12 133.25,643.61" fill="#2e4d73" stroke="#2e4d73" stroke-width="0.35"/>
<polygon points="133.25,643.61 130.52,642.12 133.27,645.65 135.98,647.15" fill="#2f4e75" stroke="#2f4e75" stroke-width="0.35"/>
<polygon points="93.01,593.87 90.27,592.56 94.36,597.78 97.09,599.11" fill="#263f5e" stroke="#263f5e" stroke-width="0.35"/>
<polygon points="97.09,599.11 94.36,597.78 98.29,602.80 101.01,604.16" fill="#264161" stroke="#264161" stroke-width="0.35"/>
<polygon points="101.01,604.16 98.29,602.80 102.08,607.62 104.79,609.01" fill="#274263" stroke="#274263" stroke-width="0.35"/>
<polygon points="104.79,609.01 102.08,607.62 105.72,612.28 108.42,613.69" fill="#284465" stroke="#284465" stroke-width="0.35"/>
<polygon points="108.42,613.69 105.72,612.28 109.24,616.76 111.92,618.19" fill="#294567" stroke="#294567" stroke-width="0.35"/>
<polygon points="111.92,618.19 109.24,616.76 112.63,621.09 115.30,622.53" fill="#2a4769" stroke="#2a4769" stroke-width="0.35"/>
<polygon points="115.30,622.53 112.63,621.09 115.90,625.26 118.56,626.73" fill="#2b486b" stroke="#2b486b" stroke-width="0.35"/>
<polygon points="118.56,626.73 115.90,625.26 119.06,629.30 121.70,630.77" fill="#2c496e" stroke="#2c496e" stroke-width="0.35"/>
<polygon points="121.70,630.77 119.06,629.30 122.12,633.19 124.74,634.68" fill="#2d4b70" stroke="#2d4b70" stroke-width="0.35"/>
<polygon points="124.74,634.68 122.12,633.19 125.07,636.96 127.68,638.46" fill="#2d4c72" stroke="#2d4c72" stroke-width="0.35"/>
<polygon points="127.68,638.46 125.07,636.96 127.93,640.61 130.52,642.12" fill="#2e4e74" stroke="#2e4e74" stroke-width="0.35"/>
<polygon points="130.52,642.12 127.93,640.61 130.70,644.14 133.27,645.65" fill="#2f4f76" stroke="#2f4f76" stroke-width="0.35"/>
<polygon points="90.27,592.56 87.71,591.26 91.80,596.44 94.36,597.78" fill="#26405f" stroke="#26405f" stroke-width="0.35"/>
<polygon points="94.36,597.78 91.80,596.44 95.74,601.43 98.29,602.80" fill="#274262" stroke="#274262" stroke-width="0.35"/>
<polygon points="98.29,602.80 95.74,601.43 99.53,606.23 102.08,607.62" fill="#284364" stroke="#284364" stroke-width="0.35"/>
<polygon points="102.08,607.62 99.53,606.23 103.19,610.86 105.72,612.28" fill="#294466" stroke="#294466" stroke-width="0.35"/>
<polygon points="105.72,612.28 103.19,610.86 106.71,615.32 109.24,616.76" fill="#2a4668" stroke="#2a4668" stroke-width="0.35"/>
<polygon points="109.24,616.76 106.71,615.32 110.11,619.63 112.63,621.09" fill="#2a476a" stroke="#2a476a" stroke-width="0.35"/>
<polygon points="112.63,621.09 110.11,619.63 113.40,623.79 115.90,625.26" fill="#2b496d" stroke="#2b496d" stroke-width="0.35"/>
<polygon points="115.90,625.26 113.40,623.79 116.57,627.81 119.06,629.30" fill="#2c4a6f" stroke="#2c4a6f" stroke-width="0.35"/>
<polygon points="119.06,629.30 116.57,627.81 119.64,631.69 122.12,633.19" fill="#2d4c71" stroke="#2d4c71" stroke-width="0.35"/>
<polygon points="122.12,633.19 119.64,631.69 122.60,635.45 125.07,636.96" fill="#2e4d73" stroke="#2e4d73" stroke-width="0.35"/>
<polygon points="125.07,636.96 122.60,635.45 125.48,639.09 127.93,640.61" fill="#2f4f75" stroke="#2f4f75" stroke-width="0.35"/>
<polygon points="127.93,640.61 125.48,639.09 128.26,642.61 130.70,644.14" fill="#305078" stroke="#305078" stroke-width="0.35"/>
<polygon points="87.71,591.26 85.33,589.94 89.42,595.09 91.80,596.44" fill="#274161" stroke="#274161" stroke-width="0.35"/>
<polygon points="91.80,596.44 89.42,595.09 93.36,600.05 95.74,601.43" fill="#274263" stroke="#274263" stroke-width="0.35"/>
<polygon points="95.74,601.43 93.36,600.05 97.15,604.83 99.53,606.23" fill="#284465" stroke="#284465" stroke-width="0.35"/>
<polygon points="99.53,606.23 97.15,604.83 100.81,609.43 103.19,610.86" fill="#294567" stroke="#294567" stroke-width="0.35"/>
<polygon points="103.19,610.86 100.81,609.43 104.34,613.87 106.71,615.32" fill="#2a4769" stroke="#2a4769" stroke-width="0.35"/>
<polygon points="106.71,615.32 104.34,613.87 107.75,618.16 110.11,619.63" fill="#2b486c" stroke="#2b486c" stroke-width="0.35"/>
<polygon points="110.11,619.63 107.75,618.16 111.04,622.31 113.40,623.79" fill="#2c4a6e" stroke="#2c4a6e" stroke-width="0.35"/>
<polygon points="113.40,623.79 111.04,622.31 114.22,626.31 116.57,627.81" fill="#2d4b70" stroke="#2d4b70" stroke-width="0.35"/>
<polygon points="116.57,627.81 114.22,626.31 117.30,630.18 119.64,631.69" fill="#2e4d72" stroke="#2e4d72" stroke-width="0.35"/>
<polygon points="119.64,631.69 117.30,630.18 120.27,633.93 122.60,635.45" fill="#2e4e75" stroke="#2e4e75" stroke-width="0.35"/>
<polygon points="122.60,635.45 120.27,633.93 123.16,637.56 125.48,639.09" fill="#2f5077" stroke="#2f5077" stroke-width="0.35"/>
<polygon points="125.48,639.09 123.16,637.56 125.95,641.07 128.26,642.61" fill="#305179" stroke="#305179" stroke-width="0.35"/>
<polygon points="85.33,589.94 83.12,588.62 87.20,593.74 89.42,595.09" fill="#274262" stroke="#274262" stroke-width="0.35"/>
<polygon points="89.42,595.09 87.20,593.74 91.14,598.67 93.36,600.05" fill="#284364" stroke="#284364" stroke-width="0.35"/>
<polygon points="93.36,600.05 91.14,598.67 94.93,603.42 97.15,604.83" fill="#294566" stroke="#294566" stroke-width="0.35"/>
<polygon points="97.15,604.83 94.93,603.42 98.59,608.00 100.81,609.43" fill="#2a4668" stroke="#2a4668" stroke-width="0.35"/>
<polygon points="100.81,609.43 98.59,608.00 102.12,612.42 104.34,613.87" fill="#2b486b" stroke="#2b486b" stroke-width="0.35"/>
<polygon points="104.34,613.87 102.12,612.42 105.53,616.69 107.75,618.16" fill="#2b496d" stroke="#2b496d" stroke-width="0.35"/>
<polygon points="107.75,618.16 105.53,616.69 108.83,620.81 111.04,622.31" fill="#2c4b6f" stroke="#2c4b6f" stroke-width="0.35"/>
<polygon points="111.04,622.31 108.83,620.81 112.01,624.80 114.22,626.31" fill="#2d4c71" stroke="#2d4c71" stroke-width="0.35"/>
<polygon points="114.22,626.31 112.01,624.80 115.10,628.66 117.30,630.18" fill="#2e4e74" stroke="#2e4e74" stroke-width="0.35"/>
<polygon points="117.30,630.18 115.10,628.66 118.08,632.40 120.27,633.93" fill="#2f4f76" stroke="#2f4f76" stroke-width="0.35"/>
<polygon points="120.27,633.93 118.08,632.40 120.97,636.01 123.16,637.56" fill="#305178" stroke="#305178" stroke-width="0.35"/>
<polygon points="123.16,637.56 120.97,636.01 123.77,639.52 125.95,641.07" fill="#31527a" stroke="#31527a" stroke-width="0.35"/>
<polygon points="83.12,588.62 81.08,587.30 85.16,592.38 87.20,593.74" fill="#274263" stroke="#274263" stroke-width="0.35"/>
<polygon points="87.20,593.74 85.16,592.38 89.09,597.28 91.14,598.67" fill="#284465" stroke="#284465" stroke-width="0.35"/>
<polygon points="91.14,598.67 89.09,597.28 92.87,602.00 94.93,603.42" fill="#294567" stroke="#294567" stroke-width="0.35"/>
<polygon points="94.93,603.42 92.87,602.00 96.53,606.56 98.59,608.00" fill="#2a476a" stroke="#2a476a" stroke-width="0.35"/>
<polygon points="98.59,608.00 96.53,606.56 100.06,610.96 102.12,612.42" fill="#2b486c" stroke="#2b486c" stroke-width="0.35"/>
<polygon points="102.12,612.42 100.06,610.96 103.47,615.21 105.53,616.69" fill="#2c4a6e" stroke="#2c4a6e" stroke-width="0.35"/>
<polygon points="105.53,616.69 103.47,615.21 106.76,619.31 108.83,620.81" fill="#2d4b71" stroke="#2d4b71" stroke-width="0.35"/>
<polygon points="108.83,620.81 106.76,619.31 109.95,623.29 112.01,624.80" fill="#2e4d73" stroke="#2e4d73" stroke-width="0.35"/>
<polygon points="112.01,624.80 109.95,623.29 113.03,627.13 115.10,628.66" fill="#2f4f75" stroke="#2f4f75" stroke-width="0.35"/>
<polygon points="115.10,628.66 113.03,627.13 116.02,630.85 118.08,632.40" fill="#305077" stroke="#305077" stroke-width="0.35"/>
<polygon points="118.08,632.40 116.02,630.85 118.91,634.46 120.97,636.01" fill="#30527a" stroke="#30527a" stroke-width="0.35"/>
<polygon points="120.97,636.01 118.91,634.46 121.72,637.96 123.77,639.52" fill="#31537c" stroke="#31537c" stroke-width="0.35"/>
<polygon points="81.08,587.30 79.21,585.98 83.27,591.03 85.16,592.38" fill="#284364" stroke="#284364" stroke-width="0.35"/>
<polygon points="85.16,592.38 83.27,591.03 87.19,595.89 89.09,597.28" fill="#294566" stroke="#294566" stroke-width="0.35"/>
<polygon points="89.09,597.28 87.19,595.89 90.97,600.59 92.87,602.00" fill="#2a4669" stroke="#2a4669" stroke-width="0.35"/>
<polygon points="92.87,602.00 90.97,600.59 94.62,605.12 96.53,606.56" fill="#2b486b" stroke="#2b486b" stroke-width="0.35"/>
<polygon points="96.53,606.56 94.62,605.12 98.14,609.49 100.06,610.96" fill="#2c496d" stroke="#2c496d" stroke-width="0.35"/>
<polygon points="100.06,610.96 98.14,609.49 101.55,613.72 103.47,615.21" fill="#2c4b70" stroke="#2c4b70" stroke-width="0.35"/>
<polygon points="103.47,615.21 101.55,613.72 104.84,617.81 106.76,619.31" fill="#2d4c72" stroke="#2d4c72" stroke-width="0.35"/>
<polygon points="106.76,619.31 104.84,617.81 108.02,621.77 109.95,623.29" fill="#2e4e74" stroke="#2e4e74" stroke-width="0.35"/>
<polygon points="109.95,623.29 108.02,621.77 111.11,625.60 113.03,627.13" fill="#2f4f76" stroke="#2f4f76" stroke-width="0.35"/>
<polygon points="113.03,627.13 111.11,625.60 114.09,629.31 116.02,630.85" fill="#305179" stroke="#305179" stroke-width="0.35"/>
<polygon points="116.02,630.85 114.09,629.31 116.99,632.90 118.91,634.46" fill="#31537b" stroke="#31537b" stroke-width="0.35"/>
<polygon points="118.91,634.46 116.99,632.90 119.80,636.39 121.72,637.96" fill="#32547d" stroke="#32547d" stroke-width="0.35"/>
<polygon points="79.21,585.98 77.50,584.66 81.55,589.67 83.27,591.03" fill="#284465" stroke="#284465" stroke-width="0.35"/>
<polygon points="83.27,591.03 81.55,589.67 85.45,594.51 87.19,595.89" fill="#294568" stroke="#294568" stroke-width="0.35"/>
<polygon points="87.19,595.89 85.45,594.51 89.22,599.17 90.97,600.59" fill="#2a476a" stroke="#2a476a" stroke-width="0.35"/>
<polygon points="90.97,600.59 89.22,599.17 92.85,603.67 94.62,605.12" fill="#2b496c" stroke="#2b496c" stroke-width="0.35"/>
<polygon points="94.62,605.12 92.85,603.67 96.37,608.03 98.14,609.49" fill="#2c4a6f" stroke="#2c4a6f" stroke-width="0.35"/>
<polygon points="98.14,609.49 96.37,608.03 99.77,612.23 101.55,613.72" fill="#2d4c71" stroke="#2d4c71" stroke-width="0.35"/>
<polygon points="101.55,613.72 99.77,612.23 103.05,616.30 104.84,617.81" fill="#2e4d73" stroke="#2e4d73" stroke-width="0.35"/>
<polygon points="104.84,617.81 103.05,616.30 106.23,620.24 108.02,621.77" fill="#2f4f76" stroke="#2f4f76" stroke-width="0.35"/>
<polygon points="108.02,621.77 106.23,620.24 109.32,624.06 111.11,625.60" fill="#305078" stroke="#305078" stroke-width="0.35"/>
<polygon points="111.11,625.60 109.32,624.06 112.30,627.75 114.09,629.31" fill="#31527a" stroke="#31527a" stroke-width="0.35"/>
<polygon points="114.09,629.31 112.30,627.75 115.19,631.34 116.99,632.90" fill="#32547c" stroke="#32547c" stroke-width="0.35"/>
<polygon points="116.99,632.90 115.19,631.34 118.00,634.81 119.80,636.39" fill="#33557f" stroke="#33557f" stroke-width="0.35"/>
<polygon points="77.50,584.66 75.95,583.35 79.98,588.32 81.55,589.67" fill="#294566" stroke="#294566" stroke-width="0.35"/>
<polygon points="81.55,589.67 79.98,588.32 83.86,593.12 85.45,594.51" fill="#2a4669" stroke="#2a4669" stroke-width="0.35"/>
<polygon points="85.45,594.51 83.86,593.12 87.62,597.76 89.22,599.17" fill="#2b486b" stroke="#2b486b" stroke-width="0.35"/>
<polygon points="89.22,599.17 87.62,597.76 91.24,602.23 92.85,603.67" fill="#2c496d" stroke="#2c496d" stroke-width="0.35"/>
<polygon points="92.85,603.67 91.24,602.23 94.74,606.56 96.37,608.03" fill="#2d4b70" stroke="#2d4b70" stroke-width="0.35"/>
<polygon points="96.37,608.03 94.74,606.56 98.13,610.75 99.77,612.23" fill="#2e4d72" stroke="#2e4d72" stroke-width="0.35"/>
<polygon points="99.77,612.23 98.13,610.75 101.41,614.80 103.05,616.30" fill="#2e4e75" stroke="#2e4e75" stroke-width="0.35"/>
<polygon points="103.05,616.30 101.41,614.80 104.58,618.72 106.23,620.24" fill="#2f5077" stroke="#2f5077" stroke-width="0.35"/>
<polygon points="106.23,620.24 104.58,618.72 107.65,622.52 109.32,624.06" fill="#305179" stroke="#305179" stroke-width="0.35"/>
<polygon points="109.32,624.06 107.65,622.52 110.63,626.20 112.30,627.75" fill="#31537c" stroke="#31537c" stroke-width="0.35"/>
<polygon points="112.30,627.75 110.63,626.20 113.52,629.77 115.19,631.34" fill="#32547e" stroke="#32547e" stroke-width="0.35"/>
<polygon points="115.19,631.34 113.52,629.77 116.33,633.23 118.00,634.81" fill="#335680" stroke="#335680" stroke-width="0.35"/>
<polygon points="75.95,583.35 74.56,582.03 78.56,586.97 79.98,588.32" fill="#294568" stroke="#294568" stroke-width="0.35"/>
<polygon points="79.98,588.32 78.56,586.97 82.43,591.74 83.86,593.12" fill="#2a476a" stroke="#2a476a" stroke-width="0.35"/>
<polygon points="83.86,593.12 82.43,591.74 86.16,596.34 87.62,597.76" fill="#2b496c" stroke="#2b496c" stroke-width="0.35"/>
<polygon points="87.62,597.76 86.16,596.34 89.77,600.79 91.24,602.23" fill="#2c4a6f" stroke="#2c4a6f" stroke-width="0.35"/>
<polygon points="91.24,602.23 89.77,600.79 93.25,605.09 94.74,606.56" fill="#2d4c71" stroke="#2d4c71" stroke-width="0.35"/>
<polygon points="94.74,606.56 93.25,605.09 96.63,609.26 98.13,610.75" fill="#2e4d73" stroke="#2e4d73" stroke-width="0.35"/>
<polygon points="98.13,610.75 96.63,609.26 99.89,613.29 101.41,614.80" fill="#2f4f76" stroke="#2f4f76" stroke-width="0.35"/>
<polygon points="101.41,614.80 99.89,613.29 103.06,617.19 104.58,618.72" fill="#305178" stroke="#305178" stroke-width="0.35"/>
<polygon points="104.58,618.72 103.06,617.19 106.12,620.97 107.65,622.52" fill="#31527b" stroke="#31527b" stroke-width="0.35"/>
<polygon points="107.65,622.52 106.12,620.97 109.09,624.64 110.63,626.20" fill="#32547d" stroke="#32547d" stroke-width="0.35"/>
<polygon points="110.63,626.20 109.09,624.64 111.98,628.20 113.52,629.77" fill="#33557f" stroke="#33557f" stroke-width="0.35"/>
<polygon points="113.52,629.77 111.98,628.20 114.77,631.65 116.33,633.23" fill="#345782" stroke="#345782" stroke-width="0.35"/>
<polygon points="74.56,582.03 73.32,580.72 77.30,585.63 78.56,586.97" fill="#2a4669" stroke="#2a4669" stroke-width="0.35"/>
<polygon points="78.56,586.97 77.30,585.63 81.14,590.36 82.43,591.74" fill="#2b486b" stroke="#2b486b" stroke-width="0.35"/>
<polygon points="82.43,591.74 81.14,590.36 84.84,594.93 86.16,596.34" fill="#2c496e" stroke="#2c496e" stroke-width="0.35"/>
<polygon points="86.16,596.34 84.84,594.93 88.43,599.35 89.77,600.79" fill="#2d4b70" stroke="#2d4b70" stroke-width="0.35"/>
<polygon points="89.77,600.79 88.43,599.35 91.90,603.63 93.25,605.09" fill="#2e4d72" stroke="#2e4d72" stroke-width="0.35"/>
<polygon points="93.25,605.09 91.90,603.63 95.26,607.77 96.63,609.26" fill="#2f4e75" stroke="#2f4e75" stroke-width="0.35"/>
<polygon points="96.63,609.26 95.26,607.77 98.51,611.78 99.89,613.29" fill="#305077" stroke="#305077" stroke-width="0.35"/>
<polygon points="99.89,613.29 98.51,611.78 101.66,615.67 103.06,617.19" fill="#30527a" stroke="#30527a" stroke-width="0.35"/>
<polygon points="103.06,617.19 101.66,615.67 104.72,619.43 106.12,620.97" fill="#31537c" stroke="#31537c" stroke-width="0.35"/>
<polygon points="106.12,620.97 104.72,619.43 107.68,623.08 109.09,624.64" fill="#32557e" stroke="#32557e" stroke-width="0.35"/>
<polygon points="109.09,624.64 107.68,623.08 110.55,626.63 111.98,628.20" fill="#335681" stroke="#335681" stroke-width="0.35"/>
<polygon points="111.98,628.20 110.55,626.63 113.34,630.07 114.77,631.65" fill="#345883" stroke="#345883" stroke-width="0.35"/>
<polygon points="73.32,580.72 72.23,579.42 76.17,584.29 77.30,585.63" fill="#2a476a" stroke="#2a476a" stroke-width="0.35"/>
<polygon points="77.30,585.63 76.17,584.29 79.98,588.99 81.14,590.36" fill="#2b496c" stroke="#2b496c" stroke-width="0.35"/>
<polygon points="81.14,590.36 79.98,588.99 83.67,593.53 84.84,594.93" fill="#2c4a6f" stroke="#2c4a6f" stroke-width="0.35"/>
<polygon points="84.84,594.93 83.67,593.53 87.23,597.92 88.43,599.35" fill="#2d4c71" stroke="#2d4c71" stroke-width="0.35"/>
<polygon points="88.43,599.35 87.23,597.92 90.68,602.17 91.90,603.63" fill="#2e4e74" stroke="#2e4e74" stroke-width="0.35"/>
<polygon points="91.90,603.63 90.68,602.17 94.02,606.29 95.26,607.77" fill="#2f4f76" stroke="#2f4f76" stroke-width="0.35"/>
<polygon points="95.26,607.77 94.02,606.29 97.26,610.28 98.51,611.78" fill="#305178" stroke="#305178" stroke-width="0.35"/>
<polygon points="98.51,611.78 97.26,610.28 100.39,614.14 101.66,615.67" fill="#31527b" stroke="#31527b" stroke-width="0.35"/>
<polygon points="101.66,615.67 100.39,614.14 103.44,617.89 104.72,619.43" fill="#32547d" stroke="#32547d" stroke-width="0.35"/>
<polygon points="104.72,619.43 103.44,617.89 106.39,621.53 107.68,623.08" fill="#335680" stroke="#335680" stroke-width="0.35"/>
<polygon points="107.68,623.08 106.39,621.53 109.25,625.06 110.55,626.63" fill="#345782" stroke="#345782" stroke-width="0.35"/>
<polygon points="110.55,626.63 109.25,625.06 112.03,628.48 113.34,630.07" fill="#355985" stroke="#355985" stroke-width="0.35"/>
<polygon points="285.17,533.60 135.54,607.10 130.73,606.02 126.11,604.91 121.67,603.76 117.42,602.60 113.37,601.41 109.50,600.19 105.83,598.96 102.34,597.70 99.05,596.44 95.94,595.16 93.01,593.87 90.27,592.56 87.71,591.26 85.33,589.94 83.12,588.62 81.08,587.30 79.21,585.98 77.50,584.66 75.95,583.35 74.56,582.03 73.32,580.72 72.23,579.42 71.28,578.13 70.46,576.84 69.79,575.56 69.24,574.30 68.81,573.04 68.51,571.80 68.33,570.57 68.26,569.35 68.29,568.14 68.43,566.95 68.67,565.78 69.01,564.62 69.44,563.47 69.95,562.34 70.55,561.23 71.24,560.13 71.99,559.05 72.83,557.98 73.73,556.93 74.70,555.90 75.73,554.89 76.83,553.89 77.98,552.91 79.19,551.94 80.45,550.99 81.76,550.06 83.12,549.15 84.52,548.25 85.96,547.37 87.44,546.50 88.96,545.65 90.52,544.81 92.11,544.00 93.73,543.19 95.39,542.41 97.06,541.63 98.77,540.88 100.50,540.13 102.26,539.40 104.03,538.69 105.83,537.99 107.64,537.31 109.47,536.63 111.32,535.98 113.19,535.33 115.07,534.70 116.96,534.08 118.86,533.48 120.78,532.88 122.70,532.30 124.63,531.73 126.58,531.18 128.53,530.63 130.49,530.10 132.45,529.57 134.42,529.06 136.39,528.56 138.37,528.07 140.36,527.59 142.34,527.13 144.33,526.67 146.32,526.22 148.32,525.78 150.31,525.35 152.31,524.93 154.31,524.52 156.31,524.12 158.30,523.73 160.30,523.34 162.30,522.97 164.30,522.60 166.29,522.24 168.29,521.89 170.28,521.55 172.27,521.22 174.26,520.89 176.25,520.57 178.23,520.26 180.22,519.96 182.20,519.66 184.17,519.37 186.15,519.09 188.12,518.82 190.09,518.55 192.06,518.29 194.03,518.03 195.99,517.79 197.94,517.54 199.90,517.31 201.85,517.08 203.80,516.85 205.74,516.64 207.69,516.43 209.63,516.22 211.56,516.02 213.49,515.83 215.42,515.64 217.35,515.45 219.27,515.28 221.19,515.11 223.10,514.94 225.02,514.78 226.93,514.62 228.83,514.47 230.73,514.32 232.63,514.18 234.53,514.05 236.42,513.91 238.32,513.79 240.20,513.67 242.09,513.55 243.97,513.44 245.85,513.33 247.73,513.23 249.60,513.13 251.47,513.04 253.34,512.95 255.21,512.86 257.07,512.78 258.93,512.70 260.79,512.63 262.65,512.57 264.50,512.50 266.35,512.45 268.20,512.39 270.05,512.34 271.90,512.30 273.74,512.25 275.59,512.22 277.43,512.18 279.27,512.15 281.10,512.13 282.94,512.11" fill="#3f6a9e" stroke="#3f6a9e" stroke-width="0.4" stroke-linejoin="round"/>
<polygon points="295.46,537.41 141.99,629.93 179.94,685.18 296.09,573.44" fill="#8c9bba" stroke="#8c9bba" stroke-width="0.4" stroke-linejoin="round"/>
<polygon points="141.99,629.93 136.57,628.61 175.55,683.81 179.94,685.18" fill="#667186" stroke="#667186" stroke-width="0.4" stroke-linejoin="round"/>
<polygon points="141.99,629.93 136.57,628.61 175.55,683.81 179.94,685.18" fill="#667187" stroke="#667187" stroke-width="0.35"/>
<polygon points="295.46,537.41 141.99,629.93 136.57,628.61" fill="#a7b9dd" stroke="#a7b9dd" stroke-width="0.4" stroke-linejoin="round"/>
<polyline points="295.46,537.41 141.99,629.93" fill="none" stroke="#78859f" stroke-width="1.1"/>
<polygon points="306.85,537.42 439.27,634.43 405.56,689.79 306.21,573.45" fill="#573316" stroke="#573316" stroke-width="0.4" stroke-linejoin="round"/>
<polygon points="400.12,605.75 439.27,634.43 405.56,689.79 379.42,659.18" fill="#9a5a27" stroke="#9a5a27" stroke-width="0.4" stroke-linejoin="round"/>
<polygon points="482.67,623.99 477.24,625.62 471.55,627.21 465.60,628.76 459.39,630.26 452.93,631.71 446.22,633.10 439.27,634.43 405.56,689.79 411.04,688.44 416.37,687.01 421.55,685.51 426.57,683.96 431.42,682.35 436.11,680.69 440.62,678.97" fill="#4f2e14" stroke="#4f2e14" stroke-width="0.4" stroke-linejoin="round"/>
<polygon points="482.67,623.99 477.24,625.62 436.11,680.69 440.62,678.97" fill="#4f2e14" stroke="#4f2e14" stroke-width="0.35"/>
<polygon points="477.24,625.62 471.55,627.21 431.42,682.35 436.11,680.69" fill="#4f2e14" stroke="#4f2e14" stroke-width="0.35"/>
<polygon points="471.55,627.21 465.60,628.76 426.57,683.96 431.42,682.35" fill="#4f2e14" stroke="#4f2e14" stroke-width="0.35"/>
<polygon points="465.60,628.76 459.39,630.26 421.55,685.51 426.57,683.96" fill="#4f2e14" stroke="#4f2e14" stroke-width="0.35"/>
<polygon points="459.39,630.26 452.93,631.71 416.37,687.01 421.55,685.51" fill="#4f2e14" stroke="#4f2e14" stroke-width="0.35"/>
<polygon points="452.93,631.71 446.22,633.10 411.04,688.44 416.37,687.01" fill="#4f2e14" stroke="#4f2e14" stroke-width="0.35"/>
<polygon points="446.22,633.10 439.27,634.43 405.56,689.79 411.04,688.44" fill="#4f2e14" stroke="#4f2e14" stroke-width="0.35"/>
<polygon points="306.85,537.42 482.67,623.99 477.24,625.62 471.55,627.21 465.60,628.76 459.39,630.26 452.93,631.71 446.22,633.10 439.27,634.43" fill="#d07a35" stroke="#d07a35" stroke-width="0.4" stroke-linejoin="round"/>
<polyline points="306.85,537.42 439.27,634.43" fill="none" stroke="#4b2c13" stroke-width="1.1"/>
<polygon points="296.29,537.47 175.38,636.56 206.34,691.96 296.82,573.53" fill="#cf7e3b" stroke="#cf7e3b" stroke-width="0.4" stroke-linejoin="round"/>
<polygon points="175.38,636.56 166.99,635.12 158.90,633.60 151.13,631.99 143.69,630.31 181.30,685.57 187.26,687.30 193.43,688.95 199.79,690.50 206.34,691.96" fill="#93592a" stroke="#93592a" stroke-width="0.4" stroke-linejoin="round"/>
<polygon points="175.38,636.56 166.99,635.12 199.79,690.50 206.34,691.96" fill="#905729" stroke="#905729" stroke-width="0.35"/>
<polygon points="166.99,635.12 158.90,633.60 193.43,688.95 199.79,690.50" fill="#925929" stroke="#925929" stroke-width="0.35"/>
<polygon points="158.90,633.60 151.13,631.99 187.26,687.30 193.43,688.95" fill="#945a2a" stroke="#945a2a" stroke-width="0.35"/>
<polygon points="151.13,631.99 143.69,630.31 181.30,685.57 187.26,687.30" fill="#955b2a" stroke="#955b2a" stroke-width="0.35"/>
<polygon points="296.29,537.47 175.38,636.56 166.99,635.12 158.90,633.60 151.13,631.99 143.69,630.31" fill="#f79646" stroke="#f79646" stroke-width="0.4" stroke-linejoin="round"/>
<polyline points="296.29,537.47 175.38,636.56" fill="none" stroke="#b26c32" stroke-width="1.1"/>
<polygon points="304.88,537.54 388.63,641.75 366.53,697.18 304.45,573.62" fill="#223752" stroke="#223752" stroke-width="0.4" stroke-linejoin="round"/>
<polygon points="363.11,610.00 388.63,641.75 366.53,697.18 349.81,663.90" fill="#3b6091" stroke="#3b6091" stroke-width="0.4" stroke-linejoin="round"/>
<polygon points="434.86,635.26 427.67,636.52 420.26,637.72 412.64,638.85 404.82,639.89 396.81,640.86 388.63,641.75 366.53,697.18 372.75,696.30 378.86,695.33 384.85,694.27 390.73,693.14 396.48,691.93 402.10,690.64" fill="#20344f" stroke="#20344f" stroke-width="0.4" stroke-linejoin="round"/>
<polygon points="434.86,635.26 427.67,636.52 396.48,691.93 402.10,690.64" fill="#1f324b" stroke="#1f324b" stroke-width="0.35"/>
<polygon points="427.67,636.52 420.26,637.72 390.73,693.14 396.48,691.93" fill="#1f334d" stroke="#1f334d" stroke-width="0.35"/>
<polygon points="420.26,637.72 412.64,638.85 384.85,694.27 390.73,693.14" fill="#20344e" stroke="#20344e" stroke-width="0.35"/>
<polygon points="412.64,638.85 404.82,639.89 378.86,695.33 384.85,694.27" fill="#213550" stroke="#213550" stroke-width="0.35"/>
<polygon points="404.82,639.89 396.81,640.86 372.75,696.30 378.86,695.33" fill="#213651" stroke="#213651" stroke-width="0.35"/>
<polygon points="396.81,640.86 388.63,641.75 366.53,697.18 372.75,696.30" fill="#223753" stroke="#223753" stroke-width="0.35"/>
<polygon points="304.88,537.54 434.86,635.26 427.67,636.52 420.26,637.72 412.64,638.85 404.82,639.89 396.81,640.86 388.63,641.75" fill="#5082c4" stroke="#5082c4" stroke-width="0.4" stroke-linejoin="round"/>
<polyline points="304.88,537.54 388.63,641.75" fill="none" stroke="#1d2f47" stroke-width="1.1"/>
<polygon points="297.92,537.56 227.09,643.00 245.85,698.42 298.27,573.65" fill="#3f90a6" stroke="#3f90a6" stroke-width="0.4" stroke-linejoin="round"/>
<polygon points="227.09,643.00 218.68,642.23 210.42,641.38 202.32,640.44 194.41,639.42 186.70,638.33 179.19,637.16 209.29,692.57 215.10,693.75 221.03,694.85 227.08,695.88 233.24,696.81 239.50,697.66 245.85,698.42" fill="#2a606f" stroke="#2a606f" stroke-width="0.4" stroke-linejoin="round"/>
<polygon points="227.09,643.00 218.68,642.23 239.50,697.66 245.85,698.42" fill="#295d6c" stroke="#295d6c" stroke-width="0.35"/>
<polygon points="218.68,642.23 210.42,641.38 233.24,696.81 239.50,697.66" fill="#295f6d" stroke="#295f6d" stroke-width="0.35"/>
<polygon points="210.42,641.38 202.32,640.44 227.08,695.88 233.24,696.81" fill="#2a606e" stroke="#2a606e" stroke-width="0.35"/>
<polygon points="202.32,640.44 194.41,639.42 221.03,694.85 227.08,695.88" fill="#2a6170" stroke="#2a6170" stroke-width="0.35"/>
<polygon points="194.41,639.42 186.70,638.33 215.10,693.75 221.03,694.85" fill="#2b6271" stroke="#2b6271" stroke-width="0.35"/>
<polygon points="186.70,638.33 179.19,637.16 209.29,692.57 215.10,693.75" fill="#2b6372" stroke="#2b6372" stroke-width="0.35"/>
<polygon points="297.92,537.56 227.09,643.00 218.68,642.23 210.42,641.38 202.32,640.44 194.41,639.42 186.70,638.33 179.19,637.16" fill="#4bacc6" stroke="#4bacc6" stroke-width="0.4" stroke-linejoin="round"/>
<polyline points="297.92,537.56 227.09,643.00" fill="none" stroke="#367c8f" stroke-width="1.1"/>
<polygon points="303.27,537.60 346.90,645.03 335.16,700.44 303.02,573.71" fill="#512220" stroke="#512220" stroke-width="0.4" stroke-linejoin="round"/>
<polygon points="333.44,611.87 346.90,645.03 335.16,700.44 326.42,665.95" fill="#8e3b39" stroke="#8e3b39" stroke-width="0.4" stroke-linejoin="round"/>
<polygon points="384.50,642.19 375.34,643.07 366.00,643.83 356.51,644.49 346.90,645.03 335.16,700.44 342.35,699.90 349.46,699.25 356.48,698.49 363.41,697.62" fill="#552322" stroke="#552322" stroke-width="0.4" stroke-linejoin="round"/>
<polygon points="384.50,642.19 375.34,643.07 356.48,698.49 363.41,697.62" fill="#522221" stroke="#522221" stroke-width="0.35"/>
<polygon points="375.34,643.07 366.00,643.83 349.46,699.25 356.48,698.49" fill="#542322" stroke="#542322" stroke-width="0.35"/>
<polygon points="366.00,643.83 356.51,644.49 342.35,699.90 349.46,699.25" fill="#552422" stroke="#552422" stroke-width="0.35"/>
<polygon points="356.51,644.49 346.90,645.03 335.16,700.44 342.35,699.90" fill="#572423" stroke="#572423" stroke-width="0.35"/>
<polygon points="303.27,537.60 384.50,642.19 375.34,643.07 366.00,643.83 356.51,644.49 346.90,645.03" fill="#c0504d" stroke="#c0504d" stroke-width="0.4" stroke-linejoin="round"/>
<polyline points="303.27,537.60 346.90,645.03" fill="none" stroke="#451d1c" stroke-width="1.1"/>
<polygon points="299.97,537.62 295.85,646.15 297.19,701.55 300.09,573.73" fill="#6c5488" stroke="#6c5488" stroke-width="0.4" stroke-linejoin="round"/>
<polygon points="295.85,646.15 286.62,646.07 277.41,645.89 268.25,645.60 259.16,645.21 250.16,644.72 241.26,644.13 232.49,643.44 249.91,698.86 256.51,699.54 263.17,700.13 269.89,700.62 276.67,701.00 283.48,701.29 290.33,701.47 297.19,701.55" fill="#423353" stroke="#423353" stroke-width="0.4" stroke-linejoin="round"/>
<polygon points="295.85,646.15 286.62,646.07 290.33,701.47 297.19,701.55" fill="#3f3150" stroke="#3f3150" stroke-width="0.35"/>
<polygon points="286.62,646.07 277.41,645.89 283.48,701.29 290.33,701.47" fill="#403251" stroke="#403251" stroke-width="0.35"/>
<polygon points="277.41,645.89 268.25,645.60 276.67,701.00 283.48,701.29" fill="#413352" stroke="#413352" stroke-width="0.35"/>
<polygon points="268.25,645.60 259.16,645.21 269.89,700.62 276.67,701.00" fill="#423454" stroke="#423454" stroke-width="0.35"/>
<polygon points="259.16,645.21 250.16,644.72 263.17,700.13 269.89,700.62" fill="#433455" stroke="#433455" stroke-width="0.35"/>
<polygon points="250.16,644.72 241.26,644.13 256.51,699.54 263.17,700.13" fill="#443556" stroke="#443556" stroke-width="0.35"/>
<polygon points="241.26,644.13 232.49,643.44 249.91,698.86 256.51,699.54" fill="#453657" stroke="#453657" stroke-width="0.35"/>
<polygon points="299.97,537.62 295.85,646.15 286.62,646.07 277.41,645.89 268.25,645.60 259.16,645.21 250.16,644.72 241.26,644.13 232.49,643.44" fill="#8064a2" stroke="#8064a2" stroke-width="0.4" stroke-linejoin="round"/>
<polyline points="299.97,537.62 295.85,646.15" fill="none" stroke="#5c4875" stroke-width="1.1"/>
<polygon points="343.04,645.22 332.63,645.67 322.13,645.98 311.58,646.16 301.00,646.20 301.01,701.60 308.87,701.56 316.71,701.38 324.52,701.07 332.28,700.62" fill="#49592a" stroke="#49592a" stroke-width="0.4" stroke-linejoin="round"/>
<polygon points="343.04,645.22 332.63,645.67 324.52,701.07 332.28,700.62" fill="#475629" stroke="#475629" stroke-width="0.35"/>
<polygon points="332.63,645.67 322.13,645.98 316.71,701.38 324.52,701.07" fill="#49582a" stroke="#49582a" stroke-width="0.35"/>
<polygon points="322.13,645.98 311.58,646.16 308.87,701.56 316.71,701.38" fill="#4a592b" stroke="#4a592b" stroke-width="0.35"/>
<polygon points="311.58,646.16 301.00,646.20 301.01,701.60 308.87,701.56" fill="#4b5b2b" stroke="#4b5b2b" stroke-width="0.35"/>
<polygon points="301.84,537.63 343.04,645.22 332.63,645.67 322.13,645.98 311.58,646.16 301.00,646.20" fill="#9bbb59" stroke="#9bbb59" stroke-width="0.4" stroke-linejoin="round"/>
</g>
</svg>
</body></html>
